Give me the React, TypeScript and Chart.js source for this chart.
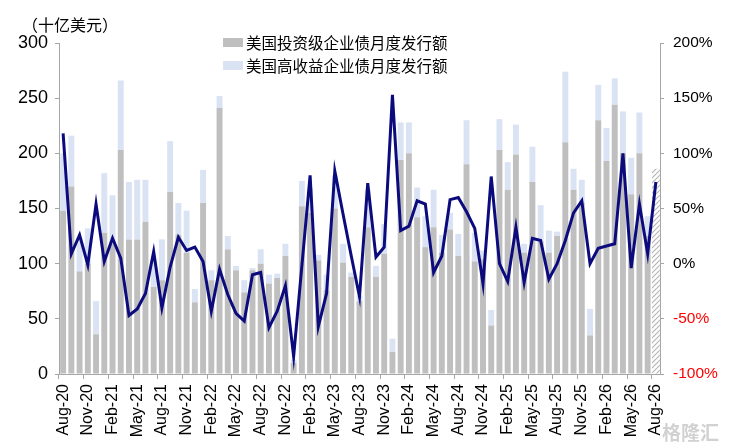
import React, { useRef, useEffect } from 'react';
import { Chart, registerables } from 'chart.js';

Chart.register(...registerables);

const months = [
  'Aug-20', 'Sep-20', 'Oct-20', 'Nov-20', 'Dec-20',
  'Jan-21', 'Feb-21', 'Mar-21', 'Apr-21', 'May-21', 'Jun-21', 'Jul-21', 'Aug-21', 'Sep-21', 'Oct-21', 'Nov-21', 'Dec-21',
  'Jan-22', 'Feb-22', 'Mar-22', 'Apr-22', 'May-22', 'Jun-22', 'Jul-22', 'Aug-22', 'Sep-22', 'Oct-22', 'Nov-22', 'Dec-22',
  'Jan-23', 'Feb-23', 'Mar-23', 'Apr-23', 'May-23', 'Jun-23', 'Jul-23', 'Aug-23', 'Sep-23', 'Oct-23', 'Nov-23', 'Dec-23',
  'Jan-24', 'Feb-24', 'Mar-24', 'Apr-24', 'May-24', 'Jun-24', 'Jul-24', 'Aug-24', 'Sep-24', 'Oct-24', 'Nov-24', 'Dec-24',
  'Jan-25', 'Feb-25', 'Mar-25', 'Apr-25', 'May-25', 'Jun-25', 'Jul-25', 'Aug-25', 'Sep-25', 'Oct-25', 'Nov-25', 'Dec-25',
  'Jan-26', 'Feb-26', 'Mar-26', 'Apr-26', 'May-26', 'Jun-26', 'Jul-26', 'Aug-26',
];

// 美国投资级企业债月度发行额 (十亿美元)
const igIssuance = [
  148, 170, 93, 100, 36,
  128, 118, 203, 122, 122, 138, 79, 85, 165, 126, 110, 65,
  155, 85, 241, 113, 94, 74, 94, 100, 82, 87, 107, 10,
  152, 146, 103, 76, 150, 101, 88, 66, 133, 88, 109, 20,
  194, 200, 142, 115, 133, 110, 131, 107, 190, 102, 104, 44,
  203, 167, 199, 110, 174, 120, 110, 125, 210, 167, 155, 35,
  230, 193, 244, 200, 163, 200, 125, null,
];

// 美国高收益企业债月度发行额 (十亿美元)
const hyIssuance = [
  52, 46, 30, 32, 30,
  54, 44, 63, 52, 54, 38, 24, 37, 46, 29, 38, 12,
  30, 9, 11, 12, 4, 11, 2, 13, 8, 4, 11, 3,
  23, 22, 5, 14, 30, 17, 4, 5, 34, 10, 27, 12,
  34, 28, 27, 28, 34, 16, 15, 20, 40, 26, 8, 14,
  28, 25, 27, 8, 32, 33, 20, 4, 64, 19, 21, 24,
  32, 30, 24, 38, 33, 37, 18, null,
];

// latest month, partial (hatched)
const partialMonth = [
  null, null, null, null, null,
  null, null, null, null, null, null, null, null, null, null, null, null,
  null, null, null, null, null, null, null, null, null, null, null, null,
  null, null, null, null, null, null, null, null, null, null, null, null,
  null, null, null, null, null, null, null, null, null, null, null, null,
  null, null, null, null, null, null, null, null, null, null, null, null,
  null, null, null, null, null, null, null, 186,
];

// 同比 (%), right axis
const yoyChange = [
  118, 9, 26, -1, 54,
  2, 23, 5, -47, -41, -27, 11, -40, -3, 24, 12, 15,
  2, -43, -5, -28, -45, -52, -10, -8, -58, -43, -20, -84,
  -2, 80, -57, -27, 84, 45, 7, -30, 73, 6, 15, 153,
  30, 34, 57, 54, -8, 7, 58, 60, 47, 32, -18, 79,
  0, -16, 33, -17, 23, 21, -14, 0, 21, 46, 57, 0,
  14, 16, 18, 100, -4, 54, 9, 74,
];

const leftTicks = { min: 0, max: 300, step: 50 };
const rightTicks = { min: -100, max: 200, step: 50 };

const NUM_FONT = '"Liberation Sans", Arial, sans-serif';
const CJK_FONT = '"Noto Sans CJK SC", "Noto Sans", sans-serif';
const AXIS_GREY = '#a6a6a6';

function makeHatch(ctx) {
  const pc = document.createElement('canvas');
  pc.width = 5;
  pc.height = 5;
  const p = pc.getContext('2d');
  p.fillStyle = '#ffffff';
  p.fillRect(0, 0, 5, 5);
  p.strokeStyle = '#b3b3b3';
  p.lineWidth = 1.1;
  p.beginPath();
  p.moveTo(0, 5);
  p.lineTo(5, 0);
  p.moveTo(-1, 1);
  p.lineTo(1, -1);
  p.moveTo(4, 6);
  p.lineTo(6, 4);
  p.stroke();
  return ctx.createPattern(pc, 'repeat');
}

function IssuanceChart() {
  const chartRef = useRef(null);
  const chartInstance = useRef(null);

  useEffect(() => {
    document.body.style.margin = '0';
    const ctx = chartRef.current.getContext('2d');

    if (chartInstance.current) {
      chartInstance.current.destroy();
    }

    chartInstance.current = new Chart(ctx, {
      type: 'bar',
      data: {
        labels: months,
        datasets: [
          {
            type: 'line',
            label: '同比',
            data: yoyChange,
            yAxisID: 'y1',
            borderColor: '#0b0b7e',
            borderWidth: 3,
            pointRadius: 0,
            tension: 0,
            order: 0,
          },
          {
            label: '美国投资级企业债月度发行额',
            data: igIssuance,
            backgroundColor: '#bfbfbf',
            stack: 'issuance',
            barPercentage: 0.72,
            categoryPercentage: 1,
            order: 1,
          },
          {
            label: '美国高收益企业债月度发行额',
            data: hyIssuance,
            backgroundColor: '#dae3f3',
            stack: 'issuance',
            barPercentage: 0.72,
            categoryPercentage: 1,
            order: 1,
          },
          {
            label: 'partial',
            data: partialMonth,
            backgroundColor: makeHatch(ctx),
            stack: 'issuance',
            barPercentage: 0.95,
            categoryPercentage: 1,
            order: 1,
          },
        ],
      },
      options: {
        responsive: true,
        maintainAspectRatio: false,
        animation: false,
        layout: { padding: { top: 43, left: 0, right: 0, bottom: 0 } },
        plugins: {
          legend: { display: false },
          tooltip: { enabled: false },
        },
        scales: {
          x: {
            stacked: true,
            offset: true,
            grid: {
              drawOnChartArea: false,
              drawTicks: true,
              tickLength: 5,
              color: (c) => (c.index % 3 === 0 ? AXIS_GREY : 'rgba(0,0,0,0)'),
            },
            border: { color: AXIS_GREY },
            ticks: {
              autoSkip: false,
              maxRotation: 90,
              minRotation: 90,
              padding: 5,
              color: '#000',
              font: { family: NUM_FONT, size: 16 },
              callback: (v, i) => (i % 3 === 0 ? months[i] : ''),
            },
            afterFit: (s) => { s.height = 73; },
          },
          y: {
            stacked: true,
            position: 'left',
            min: leftTicks.min,
            max: leftTicks.max,
            grid: { drawOnChartArea: false, tickLength: 4, color: AXIS_GREY },
            border: { color: AXIS_GREY },
            ticks: {
              stepSize: leftTicks.step,
              padding: 7,
              color: '#000',
              font: { family: NUM_FONT, size: 18 },
            },
            afterFit: (s) => { s.width = 59; },
          },
          y1: {
            position: 'right',
            min: rightTicks.min,
            max: rightTicks.max,
            grid: { drawOnChartArea: false, tickLength: 4, color: AXIS_GREY },
            border: { color: AXIS_GREY },
            ticks: {
              stepSize: rightTicks.step,
              padding: 9,
              color: (c) => (c.tick && c.tick.value < 0 ? '#ff0000' : '#000'),
              font: { family: NUM_FONT, size: 15.5 },
              callback: (v) => `${v}%`,
            },
            afterFit: (s) => { s.width = 73; },
          },
        },
      },
    });

    return () => {
      if (chartInstance.current) {
        chartInstance.current.destroy();
        chartInstance.current = null;
      }
    };
  }, []);

  const legendText = { position: 'absolute', left: 246, fontFamily: CJK_FONT, fontSize: 15.5, lineHeight: '18px', color: '#000', whiteSpace: 'nowrap' } as const;
  const legendBox = { position: 'absolute', left: 223, width: 20, height: 9 } as const;

  return (
    <div style={{ position: 'relative', width: 733, height: 447, background: '#fff' }}>
      <canvas ref={chartRef}></canvas>
      <div style={{ position: 'absolute', left: 22, top: 14, fontFamily: CJK_FONT, fontSize: 16, lineHeight: '20px', color: '#000' }}>（十亿美元）</div>
      <div style={{ ...legendBox, top: 38, background: '#bfbfbf' }}></div>
      <div style={{ ...legendText, top: 33 }}>美国投资级企业债月度发行额</div>
      <div style={{ ...legendBox, top: 61, background: '#dae3f3' }}></div>
      <div style={{ ...legendText, top: 56 }}>美国高收益企业债月度发行额</div>
      <div style={{ position: 'absolute', left: 662, top: 418, fontFamily: CJK_FONT, fontSize: 19, color: 'rgba(190,190,190,0.7)', fontWeight: 700 }}>格隆汇</div>
    </div>
  );
}

export default function App() {
  return <IssuanceChart />;
}
